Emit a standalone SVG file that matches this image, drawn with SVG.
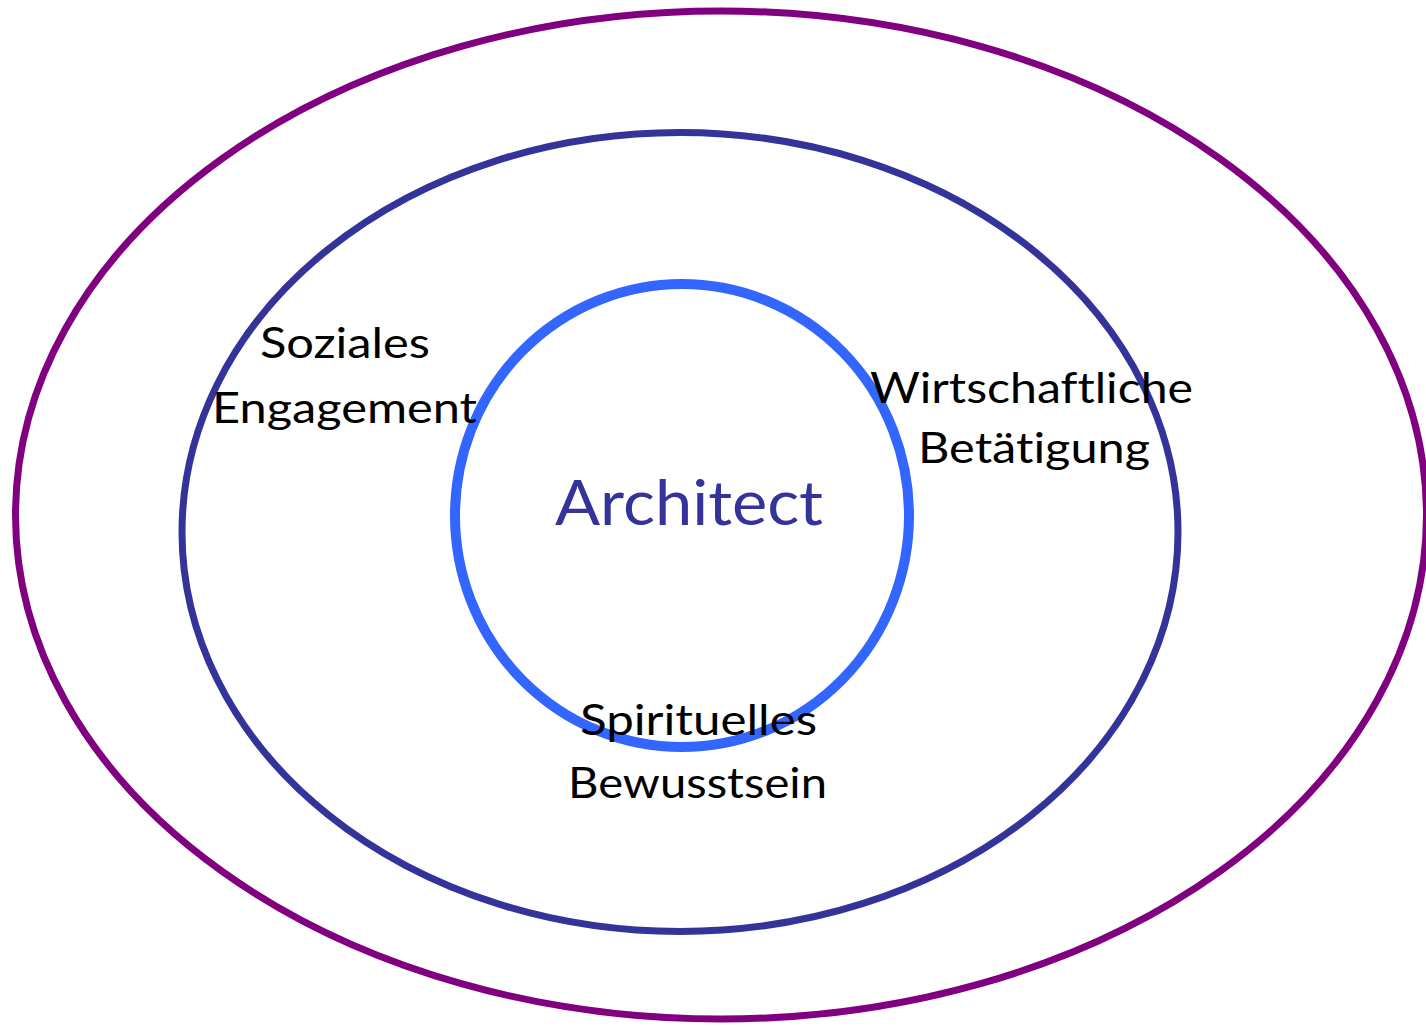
<svg xmlns="http://www.w3.org/2000/svg" width="1426" height="1027" viewBox="0 0 1426 1027">
<style>
.ring{fill:none}
.lbl{font-family:Lato,"Liberation Sans",sans-serif;font-size:43px;fill:#000;text-anchor:middle;font-variant-ligatures:none}
.core{font-family:Lato,"Liberation Sans",sans-serif;font-size:61px;fill:#333399;text-anchor:middle;font-variant-ligatures:none}
</style>
<rect width="1426" height="1027" fill="#fff"/>
<g id="outer">
<ellipse class="ring" cx="721" cy="515" rx="705.5" ry="504" stroke="#800080" stroke-width="7"/>
</g>
<g id="middle">
<ellipse class="ring" cx="680" cy="532" rx="498" ry="399.5" stroke="#333399" stroke-width="7"/>
</g>
<g id="inner">
<ellipse class="ring" cx="682" cy="515.5" rx="227" ry="231.5" stroke="#3366FF" stroke-width="10"/>
<text class="core" x="689" y="525" textLength="268" lengthAdjust="spacingAndGlyphs">Architect</text>
</g>
<g id="soziales">
<text class="lbl" x="345" y="358" textLength="170" lengthAdjust="spacingAndGlyphs">Soziales</text>
<text class="lbl" x="344.5" y="423" textLength="265" lengthAdjust="spacingAndGlyphs">Engagement</text>
</g>
<g id="wirtschaft">
<text class="lbl" x="1031.5" y="403" textLength="323" lengthAdjust="spacingAndGlyphs">Wirtschaftliche</text>
<text class="lbl" x="1034" y="463" textLength="232" lengthAdjust="spacingAndGlyphs">Betätigung</text>
</g>
<g id="spirituell">
<text class="lbl" x="698.5" y="735" textLength="237" lengthAdjust="spacingAndGlyphs">Spirituelles</text>
<text class="lbl" x="697.5" y="798" textLength="259" lengthAdjust="spacingAndGlyphs">Bewusstsein</text>
</g>
<g id="connectors"></g>
</svg>
